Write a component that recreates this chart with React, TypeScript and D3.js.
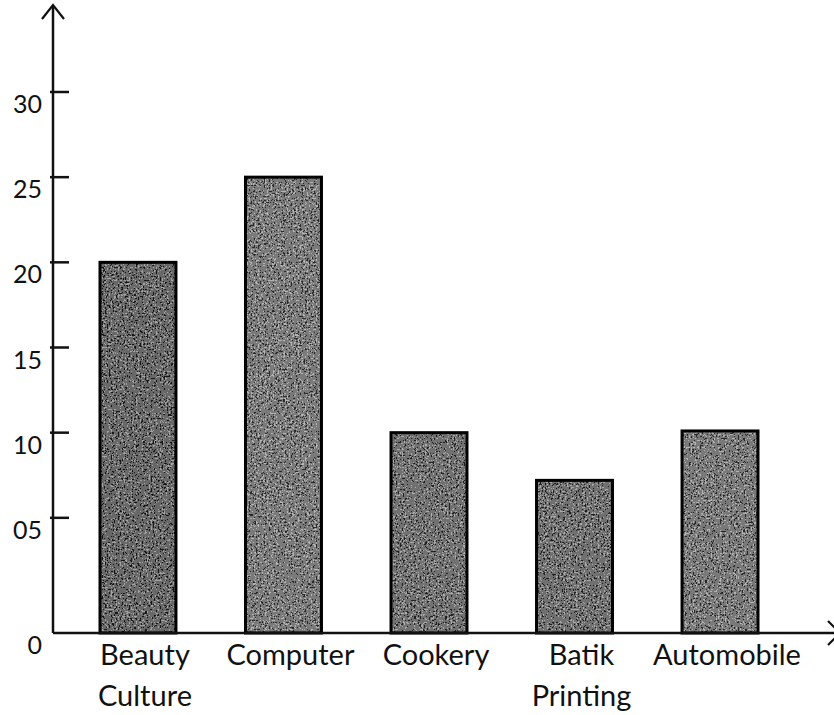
import React from "react";
import * as d3 from "d3";

const categories = ["Beauty Culture", "Computer", "Cookery", "Batik Printing", "Automobile"];
const labelLines = [["Beauty", "Culture"], ["Computer"], ["Cookery"], ["Batik", "Printing"], ["Automobile"]];
const values = [20, 25, 10, 7.2, 10.1];
const barShades = ["#333333", "#5c5c5c", "#484848", "#444444", "#585858"];
const tickValues = [5, 10, 15, 20, 25, 30];
const tickLabels = ["05", "10", "15", "20", "25", "30"];

const W = 834;
const H = 715;
const axisX = 53;
const baseY = 633;

export default function App() {
  const x = d3.scaleBand<string>().domain(categories).range([100, 758]).paddingInner(0.478).paddingOuter(0);
  const y = d3.scaleLinear().domain([0, 30]).range([603, 92]);
  const font = "Lato, 'Open Sans', sans-serif";

  return (
    <svg width={W} height={H} style={{ position: "absolute", left: 0, top: 0, background: "#fff" }}>
      <defs>
        <filter id="grain" x="0" y="0" width="100%" height="100%">
          <feTurbulence type="fractalNoise" baseFrequency="0.55" numOctaves={3} seed={7} />
          <feColorMatrix type="saturate" values="0" />
          <feComponentTransfer>
            <feFuncR type="discrete" tableValues="0 0 0.3 1 1" />
            <feFuncG type="discrete" tableValues="0 0 0.3 1 1" />
            <feFuncB type="discrete" tableValues="0 0 0.3 1 1" />
            <feFuncA type="linear" slope={0} intercept={1} />
          </feComponentTransfer>
          <feComposite operator="in" in2="SourceGraphic" />
        </filter>
      </defs>
      <rect x={0} y={0} width={W} height={H} fill="#fff" />

      {categories.map((c, i) => {
        const bx = x(c)!;
        const by = y(values[i]);
        return (
          <g key={c}>
            <rect x={bx} y={by} width={x.bandwidth()} height={baseY - by} fill={barShades[i]} />
            <rect x={bx} y={by} width={x.bandwidth()} height={baseY - by} fill="#000" filter="url(#grain)" opacity={0.55} />
            <rect x={bx} y={by} width={x.bandwidth()} height={baseY - by} fill="none" stroke="#000" strokeWidth={3} />
          </g>
        );
      })}

      {/* y axis */}
      <line x1={axisX} y1={6} x2={axisX} y2={baseY} stroke="#111" strokeWidth={2.5} />
      <path d={`M${axisX - 11},19 L${axisX},5 L${axisX + 11},19`} fill="none" stroke="#111" strokeWidth={2.2} />
      {/* x axis */}
      <line x1={axisX} y1={baseY} x2={W} y2={baseY} stroke="#111" strokeWidth={2.5} />
      <path d={`M${W - 6},621 L${W + 6},633 L${W - 6},645`} fill="none" stroke="#111" strokeWidth={2.2} />

      {tickValues.map((t, i) => (
        <g key={t}>
          <line x1={axisX - 3} y1={y(t)} x2={axisX + 16} y2={y(t)} stroke="#111" strokeWidth={2.5} />
          <text x={axisX - 11} y={y(t) + 1} textAnchor="end" dominantBaseline="hanging" fontFamily={font} fontSize={25} fill="#111">
            {tickLabels[i]}
          </text>
        </g>
      ))}
      <text x={axisX - 11} y={baseY + 1} textAnchor="end" dominantBaseline="hanging" fontFamily={font} fontSize={25} fill="#111">
        0
      </text>

      {categories.map((c, i) => (
        <text key={c} x={x(c)! + x.bandwidth() / 2 + 7} y={665} textAnchor="middle" fontFamily={font} fontSize={29} fill="#111">
          {labelLines[i].map((ln, j) => (
            <tspan key={j} x={x(c)! + x.bandwidth() / 2 + 7} dy={j === 0 ? 0 : 41}>
              {ln}
            </tspan>
          ))}
        </text>
      ))}
    </svg>
  );
}
